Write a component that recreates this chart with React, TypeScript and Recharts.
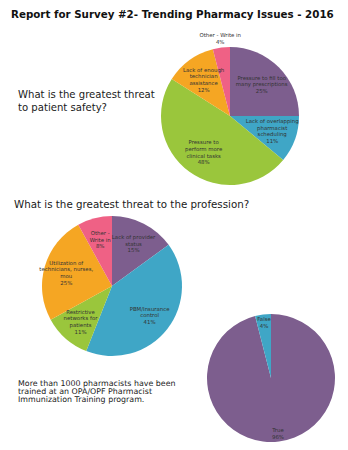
import { PieChart, Pie, Cell } from "recharts";

// patient safety
const safetyLabels = [
  "Pressure to fill too\nmany prescriptions",
  "Lack of overlapping\npharmacist\nscheduling",
  "Pressure to\nperform more\nclinical tasks",
  "Lack of enough\ntechnician\nassistance",
  "Other - Write in",
];
const safetyValues = [25, 11, 48, 12, 4];

// profession
const professionLabels = [
  "Lack of provider\nstatus",
  "PBM/Insurance\ncontrol",
  "Restrictive\nnetworks for\npatients",
  "Utilization of\ntechnicians, nurses,\nmou",
  "Other -\nWrite in",
];
const professionValues = [15, 41, 11, 25, 8];

// immunization
const trainedLabels = ["True", "False"];
const trainedValues = [96, 4];

const COLORS = {
  purple: "#7d5e8e",
  blue: "#3fa6c6",
  green: "#9ac63c",
  orange: "#f5a623",
  pink: "#ef6185",
};
const safetyColors = [COLORS.purple, COLORS.blue, COLORS.green, COLORS.orange, COLORS.pink];
const professionColors = [COLORS.purple, COLORS.blue, COLORS.green, COLORS.orange, COLORS.pink];
const trainedColors = [COLORS.purple, COLORS.blue];

const FONT = "'DejaVu Sans', Verdana, sans-serif";
const RADIAN = Math.PI / 180;

function makeLabel(ratio: number, smallRatio: number) {
  return (props: any) => {
    const { cx, cy, midAngle, outerRadius, payload, percent } = props;
    const r = outerRadius * (percent < 0.05 ? smallRatio : ratio);
    const x = cx + r * Math.cos(-midAngle * RADIAN);
    const y = cy + r * Math.sin(-midAngle * RADIAN);
    const lines = [...String(payload.name).split("\n"), `${payload.value}%`];
    const lh = 6.6;
    const y0 = y - ((lines.length - 1) * lh) / 2;
    return (
      <text
        x={x}
        y={y0}
        textAnchor="middle"
        dominantBaseline="central"
        fontSize={5.4}
        fontFamily={FONT}
        fill="#333"
      >
        {lines.map((l, i) => (
          <tspan key={i} x={x} y={y0 + i * lh}>
            {l}
          </tspan>
        ))}
      </text>
    );
  };
}

function SurveyPie({
  names,
  values,
  colors,
  cx,
  cy,
  size,
  radius,
  ratio,
  smallRatio,
}: {
  names: string[];
  values: number[];
  colors: string[];
  cx: number;
  cy: number;
  size: number;
  radius: number;
  ratio: number;
  smallRatio: number;
}) {
  const data = names.map((name, i) => ({ name, value: values[i] }));
  return (
    <div style={{ position: "absolute", left: cx - size / 2, top: cy - size / 2 }}>
      <PieChart width={size} height={size} margin={{ top: 0, right: 0, bottom: 0, left: 0 }}>
        <Pie
          data={data}
          dataKey="value"
          nameKey="name"
          cx="50%"
          cy="50%"
          outerRadius={radius}
          startAngle={90}
          endAngle={-270}
          stroke="none"
          labelLine={false}
          label={makeLabel(ratio, smallRatio)}
          isAnimationActive={false}
        >
          {data.map((_, i) => (
            <Cell key={i} fill={colors[i]} />
          ))}
        </Pie>
      </PieChart>
    </div>
  );
}

const textStyle = {
  position: "absolute" as const,
  fontFamily: FONT,
  color: "#1a1a1a",
  whiteSpace: "nowrap" as const,
};

export default function App() {
  return (
    <div
      style={{
        position: "absolute",
        left: 0,
        top: 0,
        width: 348,
        height: 450,
        background: "#fff",
        overflow: "hidden",
      }}
    >
      <div style={{ ...textStyle, left: 11, top: 8, fontSize: 10.3, fontWeight: "bold", color: "#111" }}>
        Report for Survey #2- Trending Pharmacy Issues - 2016
      </div>
      <div style={{ ...textStyle, left: 18, top: 88, fontSize: 10.1, lineHeight: "13px" }}>
        What is the greatest threat
        <br />
        to patient safety?
      </div>
      <SurveyPie
        names={safetyLabels}
        values={safetyValues}
        colors={safetyColors}
        cx={230}
        cy={116}
        size={180}
        radius={69}
        ratio={0.65}
        smallRatio={1.13}
      />
      <div style={{ ...textStyle, left: 14, top: 198, fontSize: 10.3, lineHeight: "13px" }}>
        What is the greatest threat to the profession?
      </div>
      <SurveyPie
        names={professionLabels}
        values={professionValues}
        colors={professionColors}
        cx={112}
        cy={286}
        size={180}
        radius={70}
        ratio={0.68}
        smallRatio={0.7}
      />
      <SurveyPie
        names={trainedLabels}
        values={trainedValues}
        colors={trainedColors}
        cx={271}
        cy={378}
        size={160}
        radius={64}
        ratio={0.87}
        smallRatio={0.87}
      />
      <div style={{ ...textStyle, left: 18, top: 380, fontSize: 7.9, lineHeight: "8px", color: "#222" }}>
        More than 1000 pharmacists have been
        <br />
        trained at an OPA/OPF Pharmacist
        <br />
        Immunization Training program.
      </div>
    </div>
  );
}
